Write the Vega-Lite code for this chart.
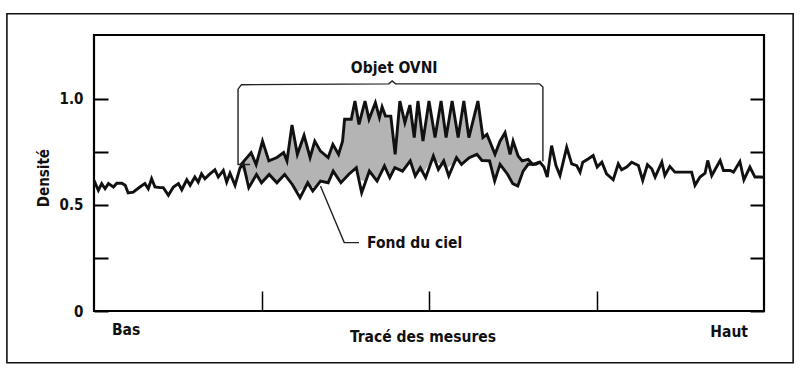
{
  "$schema": "https://vega.github.io/schema/vega-lite/v6.json",
  "width": 670,
  "height": 276,
  "autosize": {"type": "none"},
  "padding": {"left": 94, "top": 35, "right": 40, "bottom": 69},
  "background": "white",
  "config": {
    "view": {"stroke": "black", "strokeWidth": 2.2},
    "font": "Liberation Sans Narrow, DejaVu Sans Condensed, sans-serif",
    "text": {"font": "Liberation Sans Narrow, DejaVu Sans Condensed, sans-serif", "fontWeight": "bold", "fontSize": 15.5, "color": "#111"}
  },
  "datasets": {
    "base": [
      {"x": 0, "y": 0.615}, {"x": 1.3, "y": 0.568}, {"x": 2.3, "y": 0.6}, {"x": 3.3, "y": 0.576}, {"x": 4.3, "y": 0.6},
      {"x": 5.8, "y": 0.584}, {"x": 6.8, "y": 0.602}, {"x": 8.3, "y": 0.602}, {"x": 9.3, "y": 0.592}, {"x": 10.2, "y": 0.556},
      {"x": 11.7, "y": 0.56}, {"x": 13.7, "y": 0.584}, {"x": 15.2, "y": 0.6}, {"x": 16.2, "y": 0.576}, {"x": 17.2, "y": 0.623},
      {"x": 18.2, "y": 0.584}, {"x": 19.7, "y": 0.581}, {"x": 20.7, "y": 0.581}, {"x": 22.2, "y": 0.545}, {"x": 23.7, "y": 0.584},
      {"x": 25.2, "y": 0.6}, {"x": 26.2, "y": 0.571}, {"x": 27.7, "y": 0.618}, {"x": 28.7, "y": 0.592}, {"x": 30.1, "y": 0.631},
      {"x": 31.1, "y": 0.607}, {"x": 32.1, "y": 0.646}, {"x": 33.1, "y": 0.623}, {"x": 34.6, "y": 0.646}, {"x": 36.1, "y": 0.665},
      {"x": 37.1, "y": 0.631}, {"x": 38.6, "y": 0.662}, {"x": 39.6, "y": 0.607}, {"x": 40.6, "y": 0.649}, {"x": 42.1, "y": 0.592},
      {"x": 43.6, "y": 0.675}, {"x": 44.6, "y": 0.69}, {"x": 46.2, "y": 0.581}, {"x": 48.5, "y": 0.643}, {"x": 50.0, "y": 0.604},
      {"x": 52.3, "y": 0.643}, {"x": 54.6, "y": 0.604}, {"x": 56.9, "y": 0.643}, {"x": 59.2, "y": 0.596}, {"x": 61.5, "y": 0.534},
      {"x": 63.8, "y": 0.604}, {"x": 65.3, "y": 0.565}, {"x": 67.6, "y": 0.612}, {"x": 69.9, "y": 0.604}, {"x": 71.4, "y": 0.659},
      {"x": 73.7, "y": 0.604}, {"x": 76.0, "y": 0.643}, {"x": 78.3, "y": 0.675}, {"x": 79.9, "y": 0.557}, {"x": 82.2, "y": 0.659},
      {"x": 84.5, "y": 0.612}, {"x": 86.7, "y": 0.683}, {"x": 88.3, "y": 0.628}, {"x": 89.8, "y": 0.675}, {"x": 92.1, "y": 0.659},
      {"x": 94.4, "y": 0.707}, {"x": 95.9, "y": 0.636}, {"x": 97.4, "y": 0.675}, {"x": 99.0, "y": 0.628}, {"x": 101.3, "y": 0.73},
      {"x": 102.8, "y": 0.667}, {"x": 104.4, "y": 0.707}, {"x": 105.9, "y": 0.636}, {"x": 108.2, "y": 0.722}, {"x": 109.7, "y": 0.691},
      {"x": 112.0, "y": 0.722}, {"x": 114.3, "y": 0.738}, {"x": 115.8, "y": 0.709}, {"x": 118.1, "y": 0.707}, {"x": 119.6, "y": 0.612},
      {"x": 121.2, "y": 0.691}, {"x": 123.5, "y": 0.643}, {"x": 125.0, "y": 0.6}, {"x": 126.5, "y": 0.589}, {"x": 128.1, "y": 0.659},
      {"x": 129.6, "y": 0.691}, {"x": 131.9, "y": 0.691}, {"x": 133.1, "y": 0.701}, {"x": 134.3, "y": 0.678}, {"x": 135.3, "y": 0.631},
      {"x": 136.6, "y": 0.779}, {"x": 137.9, "y": 0.685}, {"x": 139.1, "y": 0.638}, {"x": 141.1, "y": 0.771}, {"x": 142.6, "y": 0.693},
      {"x": 144.1, "y": 0.685}, {"x": 145.1, "y": 0.654}, {"x": 145.9, "y": 0.701}, {"x": 147.6, "y": 0.717}, {"x": 149.0, "y": 0.732},
      {"x": 150.2, "y": 0.678}, {"x": 151.6, "y": 0.701}, {"x": 153.0, "y": 0.646}, {"x": 155.0, "y": 0.618}, {"x": 156.5, "y": 0.693},
      {"x": 157.5, "y": 0.665}, {"x": 159.0, "y": 0.678}, {"x": 160.5, "y": 0.701}, {"x": 162.5, "y": 0.685}, {"x": 163.8, "y": 0.615},
      {"x": 165.2, "y": 0.689}, {"x": 166.5, "y": 0.67}, {"x": 167.5, "y": 0.631}, {"x": 169.5, "y": 0.701}, {"x": 170.4, "y": 0.638},
      {"x": 171.9, "y": 0.681}, {"x": 173.4, "y": 0.654}, {"x": 178.4, "y": 0.654}, {"x": 179.4, "y": 0.592}, {"x": 180.9, "y": 0.631},
      {"x": 182.4, "y": 0.649}, {"x": 183.2, "y": 0.709}, {"x": 184.4, "y": 0.638}, {"x": 186.9, "y": 0.709}, {"x": 187.9, "y": 0.662},
      {"x": 189.9, "y": 0.662}, {"x": 190.9, "y": 0.654}, {"x": 192.8, "y": 0.704}, {"x": 194.0, "y": 0.618}, {"x": 195.8, "y": 0.678},
      {"x": 197.3, "y": 0.631}, {"x": 198.8, "y": 0.631}, {"x": 200, "y": 0.63}
    ],
    "ovni": [
      {"x": 43.6, "hi": 0.685, "lo": 0.683}, {"x": 46.9, "hi": 0.746, "lo": 0.6}, {"x": 48.4, "hi": 0.69, "lo": 0.64},
      {"x": 50.3, "hi": 0.8, "lo": 0.61}, {"x": 52.2, "hi": 0.707, "lo": 0.64}, {"x": 54.6, "hi": 0.723, "lo": 0.61},
      {"x": 56.6, "hi": 0.746, "lo": 0.64}, {"x": 57.6, "hi": 0.707, "lo": 0.63}, {"x": 59.1, "hi": 0.876, "lo": 0.6},
      {"x": 60.7, "hi": 0.738, "lo": 0.56}, {"x": 62.7, "hi": 0.827, "lo": 0.58}, {"x": 64.5, "hi": 0.723, "lo": 0.59},
      {"x": 65.9, "hi": 0.8, "lo": 0.58}, {"x": 67.6, "hi": 0.753, "lo": 0.61}, {"x": 69.9, "hi": 0.723, "lo": 0.61},
      {"x": 71.3, "hi": 0.785, "lo": 0.66}, {"x": 73.0, "hi": 0.738, "lo": 0.62}, {"x": 74.2, "hi": 0.8, "lo": 0.61},
      {"x": 74.8, "hi": 0.903, "lo": 0.62}, {"x": 76.8, "hi": 0.903, "lo": 0.65}, {"x": 77.9, "hi": 0.989, "lo": 0.67},
      {"x": 79.1, "hi": 0.879, "lo": 0.62}, {"x": 80.9, "hi": 0.989, "lo": 0.61}, {"x": 82.1, "hi": 0.903, "lo": 0.66},
      {"x": 84.0, "hi": 0.981, "lo": 0.62}, {"x": 85.2, "hi": 0.911, "lo": 0.63}, {"x": 86.0, "hi": 0.961, "lo": 0.66},
      {"x": 87.0, "hi": 0.918, "lo": 0.68}, {"x": 88.6, "hi": 0.918, "lo": 0.64}, {"x": 89.9, "hi": 0.738, "lo": 0.67},
      {"x": 91.3, "hi": 0.989, "lo": 0.665}, {"x": 92.8, "hi": 0.887, "lo": 0.67}, {"x": 94.3, "hi": 0.97, "lo": 0.705},
      {"x": 95.6, "hi": 0.817, "lo": 0.65}, {"x": 96.7, "hi": 0.989, "lo": 0.66}, {"x": 98.2, "hi": 0.8, "lo": 0.65},
      {"x": 100.0, "hi": 0.989, "lo": 0.69}, {"x": 101.8, "hi": 0.817, "lo": 0.71}, {"x": 103.6, "hi": 0.989, "lo": 0.69},
      {"x": 105.1, "hi": 0.817, "lo": 0.67}, {"x": 106.9, "hi": 0.989, "lo": 0.69}, {"x": 108.7, "hi": 0.817, "lo": 0.71},
      {"x": 110.4, "hi": 0.989, "lo": 0.7}, {"x": 111.9, "hi": 0.817, "lo": 0.72}, {"x": 114.6, "hi": 0.989, "lo": 0.73},
      {"x": 116.1, "hi": 0.817, "lo": 0.71}, {"x": 117.3, "hi": 0.832, "lo": 0.71}, {"x": 119.7, "hi": 0.738, "lo": 0.62},
      {"x": 121.2, "hi": 0.8, "lo": 0.69}, {"x": 122.7, "hi": 0.84, "lo": 0.66}, {"x": 124.2, "hi": 0.738, "lo": 0.62},
      {"x": 125.1, "hi": 0.8, "lo": 0.6}, {"x": 126.6, "hi": 0.73, "lo": 0.59}, {"x": 127.8, "hi": 0.707, "lo": 0.65},
      {"x": 129.6, "hi": 0.714, "lo": 0.69}, {"x": 131.0, "hi": 0.69, "lo": 0.69}, {"x": 132.7, "hi": 0.7, "lo": 0.695},
      {"x": 133.1, "hi": 0.701, "lo": 0.701}
    ],
    "bracket": [
      {"x": 46.6, "y": 0.69}, {"x": 43.0, "y": 0.69}, {"x": 43.0, "y": 1.045}, {"x": 44.0, "y": 1.066},
      {"x": 88.0, "y": 1.07}, {"x": 89.0, "y": 1.084}, {"x": 90.0, "y": 1.07}, {"x": 133.0, "y": 1.07},
      {"x": 134.0, "y": 1.055}, {"x": 134.0, "y": 0.705}
    ],
    "leader": [
      {"x": 67.6, "y": 0.589}, {"x": 74.7, "y": 0.322}, {"x": 79.1, "y": 0.322}
    ]
  },
  "layer": [
    {
      "data": {"name": "ovni"},
      "mark": {"type": "area", "color": "#b0b0b0", "opacity": 0.95},
      "encoding": {
        "x": {"field": "x", "type": "quantitative", "scale": {"domain": [0, 200], "nice": false, "zero": false},
              "axis": {"values": [50, 100, 150], "tickSize": -20, "tickWidth": 1.5, "tickColor": "black", "labels": false, "domain": false, "grid": false, "title": null}},
        "y": {"field": "hi", "type": "quantitative", "scale": {"domain": [0, 1.3], "nice": false},
              "axis": {"values": [0, 0.25, 0.5, 0.75, 1], "tickSize": -14, "tickWidth": 2, "tickColor": "black", "domain": false, "grid": false, "title": null,
                       "labelExpr": "datum.value == 0 ? '0' : (datum.value == 0.5 ? '0.5' : (datum.value == 1 ? '1.0' : ''))",
                       "labelFont": "Liberation Sans Narrow, DejaVu Sans Condensed, sans-serif", "labelFontWeight": "bold", "labelFontSize": 15, "labelColor": "#111", "labelPadding": 25}},
        "y2": {"field": "lo"}
      }
    },
    {
      "data": {"name": "base"},
      "mark": {"type": "line", "color": "#111", "strokeWidth": 2.9, "strokeJoin": "miter", "strokeMiterLimit": 4},
      "encoding": {
        "x": {"field": "x", "type": "quantitative"},
        "y": {"field": "y", "type": "quantitative",
              "axis": {"orient": "right", "values": [0, 0.25, 0.5, 0.75, 1], "tickSize": -14, "tickWidth": 2, "tickColor": "black", "labels": false, "domain": false, "grid": false, "title": null}}
      }
    },
    {
      "data": {"name": "ovni"},
      "mark": {"type": "line", "color": "#111", "strokeWidth": 2.9, "strokeJoin": "miter", "strokeMiterLimit": 4},
      "encoding": {
        "x": {"field": "x", "type": "quantitative"},
        "y": {"field": "hi", "type": "quantitative", "axis": null}
      }
    },
    {
      "data": {"name": "bracket"},
      "mark": {"type": "line", "color": "#222", "strokeWidth": 1.4, "clip": false},
      "encoding": {
        "x": {"field": "x", "type": "quantitative"},
        "y": {"field": "y", "type": "quantitative", "axis": null},
        "order": {"value": null}
      }
    },
    {
      "data": {"name": "leader"},
      "mark": {"type": "line", "color": "#222", "strokeWidth": 1.4},
      "encoding": {
        "x": {"field": "x", "type": "quantitative"},
        "y": {"field": "y", "type": "quantitative", "axis": null},
        "order": {"value": null}
      }
    },
    {
      "data": {"values": [{}]},
      "mark": {"type": "text", "text": "Objet OVNI", "align": "center", "baseline": "middle"},
      "encoding": {"x": {"datum": 89.6, "type": "quantitative"}, "y": {"datum": 1.146, "type": "quantitative", "axis": null}}
    },
    {
      "data": {"values": [{}]},
      "mark": {"type": "text", "text": "Fond du ciel", "align": "left", "baseline": "middle"},
      "encoding": {"x": {"datum": 81.5, "type": "quantitative"}, "y": {"datum": 0.322, "type": "quantitative", "axis": null}}
    },
    {
      "data": {"values": [{}]},
      "mark": {"type": "text", "text": "Bas", "align": "center", "baseline": "middle", "clip": false},
      "encoding": {"x": {"datum": 9.6, "type": "quantitative"}, "y": {"datum": -0.089, "type": "quantitative", "axis": null}}
    },
    {
      "data": {"values": [{}]},
      "mark": {"type": "text", "text": "Haut", "align": "center", "baseline": "middle", "clip": false},
      "encoding": {"x": {"datum": 189.6, "type": "quantitative"}, "y": {"datum": -0.099, "type": "quantitative", "axis": null}}
    },
    {
      "data": {"values": [{}]},
      "mark": {"type": "text", "text": "Tracé des mesures", "align": "center", "baseline": "middle", "clip": false},
      "encoding": {"x": {"datum": 98.2, "type": "quantitative"}, "y": {"datum": -0.122, "type": "quantitative", "axis": null}}
    },
    {
      "data": {"values": [{}]},
      "mark": {"type": "text", "text": "Densité", "align": "center", "baseline": "middle", "angle": 270, "fontSize": 15, "clip": false},
      "encoding": {"x": {"datum": -14.9, "type": "quantitative"}, "y": {"datum": 0.626, "type": "quantitative", "axis": null}}
    },
    {
      "data": {"values": [{}]},
      "mark": {"type": "rect", "fill": null, "stroke": "#111", "strokeWidth": 1.6, "clip": false},
      "encoding": {
        "x": {"datum": -26.0, "type": "quantitative"}, "x2": {"datum": 208.7},
        "y": {"datum": 1.4, "type": "quantitative", "axis": null}, "y2": {"datum": -0.244}
      }
    }
  ],
  "resolve": {"axis": {"y": "independent"}}
}
